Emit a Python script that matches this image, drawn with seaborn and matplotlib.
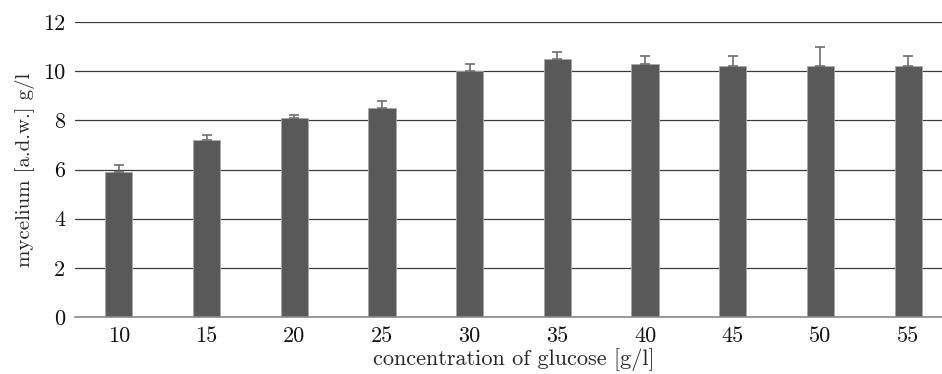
import matplotlib
matplotlib.use("Agg")
import matplotlib.pyplot as plt
import seaborn as sns
import pandas as pd
import numpy as np

categories = ["10", "15", "20", "25", "30", "35", "40", "45", "50", "55"]
values = [5.9, 7.2, 8.1, 8.5, 10.0, 10.5, 10.3, 10.2, 10.2, 10.2]
errors = [0.3, 0.2, 0.1, 0.3, 0.3, 0.3, 0.3, 0.4, 0.8, 0.4]
yticks = [0, 2, 4, 6, 8, 10, 12]

sns.set_style("white")
plt.rcParams['font.family'] = ['cmr10', 'DejaVu Serif']
plt.rcParams['axes.formatter.use_mathtext'] = True

df = pd.DataFrame({"glucose": categories, "mycelium": values})

fig = plt.figure(figsize=(9.42, 3.74), dpi=100)
ax = fig.add_axes([75/942, (374-317)/374, (952-75)/942, (317-22)/374])

sns.barplot(data=df, x="glucose", y="mycelium", color="#595959", width=0.31,
            edgecolor="#a8a8a8", linewidth=0.6, ax=ax, zorder=3, saturation=1)
ax.errorbar(np.arange(len(values)), values, yerr=[np.zeros(len(errors)), errors],
            fmt="none", ecolor="#6e6e6e", elinewidth=1.2, capsize=3.5, capthick=1.2, zorder=4)

ax.set_xlim(-0.5, len(categories) - 0.5)
ax.set_ylim(0, 12)
ax.set_yticks(yticks)
ax.set_yticklabels([str(t) for t in yticks])
ax.yaxis.grid(True, color="#3a3a3a", linewidth=0.9)
ax.set_axisbelow(True)
for s in ["top", "right", "left"]:
    ax.spines[s].set_visible(False)
ax.spines["bottom"].set_color("#8a8a8a")
ax.spines["bottom"].set_linewidth(1.2)
ax.spines["bottom"].set_zorder(5)
ax.tick_params(axis="both", length=0, labelsize=16, colors="#111111", pad=7)
ax.set_xlabel("concentration of glucose [g/l]", fontsize=16, labelpad=1)
ax.set_ylabel("mycelium [a.d.w.] g/l", fontsize=15, labelpad=6)

fig.savefig("out.png", dpi=100)
